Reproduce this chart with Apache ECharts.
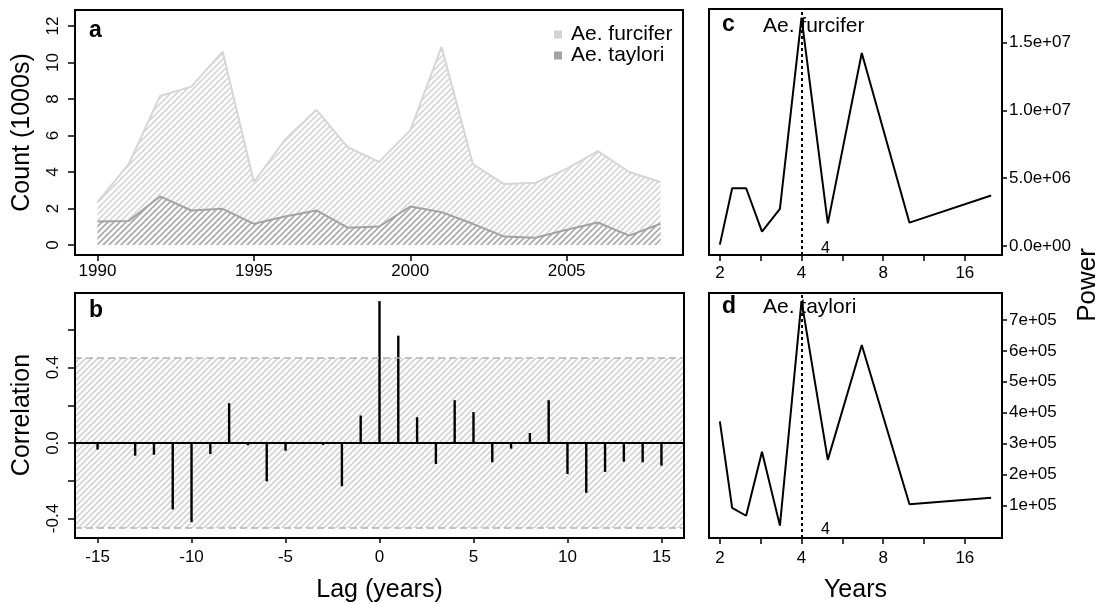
<!DOCTYPE html>
<html>
<head>
<meta charset="utf-8">
<script src="https://cdn.jsdelivr.net/npm/echarts@6/dist/echarts.min.js"></script>
<style>
  html, body { margin: 0; padding: 0; background: #fff; }
  #chart { width: 1101px; height: 604px; }
</style>
</head>
<body>
<div id="chart"></div>
<script>
// a: yearly counts (1000s)
const years = [1990, 1991, 1992, 1993, 1994, 1995, 1996, 1997, 1998, 1999, 2000, 2001, 2002, 2003, 2004, 2005, 2006, 2007, 2008]
const furcifer = [2.35, 4.44, 8.17, 8.68, 10.6, 3.45, 5.78, 7.41, 5.36, 4.55, 6.28, 10.86, 4.44, 3.34, 3.41, 4.17, 5.14, 4.0, 3.45]
const taylori = [1.28, 1.32, 2.66, 1.89, 1.98, 1.16, 1.56, 1.89, 0.95, 1.01, 2.11, 1.8, 1.16, 0.46, 0.4, 0.83, 1.23, 0.51, 1.16]

// b: cross correlation by lag
const lags = [-15, -14, -13, -12, -11, -10, -9, -8, -7, -6, -5, -4, -3, -2, -1, 0, 1, 2, 3, 4, 5, 6, 7, 8, 9, 10, 11, 12, 13, 14, 15]
const correlation = [-0.035, -0.005, -0.067, -0.062, -0.352, -0.419, -0.058, 0.211, -0.012, -0.203, -0.041, -0.003, -0.01, -0.229, 0.146,
  0.752, 0.569, 0.137, -0.111, 0.227, 0.164, -0.102, -0.03, 0.053, 0.227, -0.164, -0.264, -0.153, -0.099, -0.102, -0.12]
const ciLimit = 0.45

// c, d: periodogram
const periods = [2, 2.22, 2.5, 2.86, 3.33, 4, 5, 6.67, 10, 20]
const powerFurcifer = [0.1e6, 4.26e6, 4.26e6, 1.06e6, 2.73e6, 16.85e6, 1.67e6, 14.24e6, 1.72e6, 3.72e6]
const powerTaylori = [3.72e5, 0.915e5, 0.66e5, 2.73e5, 0.34e5, 7.62e5, 2.47e5, 6.19e5, 1.03e5, 1.245e5]
const peakPeriod = 4

// ticks
const yearTicks = [1990, 1995, 2000, 2005]
const countTicks = [0, 2, 4, 6, 8, 10, 12]
const lagTicks = [-15, -10, -5, 0, 5, 10, 15]
const corrTicks = [-0.4, -0.2, 0, 0.2, 0.4, 0.6]
const corrLabels = [-0.4, 0, 0.4]
const periodLabels = [2, 4, 8, 16]
const powerTicksC = [0, 5e6, 1e7, 1.5e7]
const powerTicksD = [1e5, 2e5, 3e5, 4e5, 5e5, 6e5, 7e5]

const FONT = '"Liberation Sans", Arial, sans-serif'

// panel boxes (px)
const grids = [
  { left: 75, top: 10, width: 608, height: 245 },
  { left: 75, top: 293, width: 609, height: 245 },
  { left: 709, top: 9, width: 293, height: 246 },
  { left: 709, top: 293, width: 293, height: 245 }
]

// diagonal hatch fill, like R's density/angle polygons
function hatch (color, bg) {
  const s = 6
  const c = document.createElement('canvas')
  c.width = c.height = s
  const g = c.getContext('2d')
  if (bg) { g.fillStyle = bg; g.fillRect(0, 0, s, s) }
  g.strokeStyle = color
  g.lineWidth = 1.6
  g.beginPath()
  g.moveTo(0, s); g.lineTo(s, 0)
  g.moveTo(-s / 2, s / 2); g.lineTo(s / 2, -s / 2)
  g.moveTo(s / 2, s * 1.5); g.lineTo(s * 1.5, s / 2)
  g.stroke()
  return { image: c, repeat: 'repeat' }
}

// R style scientific labels: 1.5e+07
function sci (v, digits) {
  if (v === 0) return (0).toFixed(digits) + 'e+00'
  const e = Math.floor(Math.log10(Math.abs(v)) + 1e-9)
  const m = v / Math.pow(10, e)
  return m.toFixed(digits) + 'e' + (e < 0 ? '-' : '+') + String(Math.abs(e)).padStart(2, '0')
}

const pair = (xs, ys) => xs.map((x, i) => [x, ys[i]])

const noLine = { show: false, onZero: false }
const tickStyle = { color: '#000', width: 1.5 }
const labelStyle = { color: '#000', fontSize: 17, fontFamily: FONT }
const nameStyle = { color: '#000', fontSize: 25, fontFamily: FONT }

function periodAxis (gridIndex, name, margin) {
  return {
    type: 'log',
    logBase: Math.SQRT2, // ticks at every half octave, labels on octaves
    gridIndex,
    min: 1.824,
    max: 21.93,
    name,
    nameLocation: 'middle',
    nameGap: 40,
    nameTextStyle: nameStyle,
    axisLine: noLine,
    splitLine: { show: false },
    axisTick: { length: 6, lineStyle: tickStyle },
    axisLabel: Object.assign({
      margin,
      showMinLabel: false,
      showMaxLabel: false,
      formatter: v => {
        const r = Math.round(v * 100) / 100
        return periodLabels.includes(r) ? String(r) : ''
      }
    }, labelStyle)
  }
}

function powerAxis (gridIndex, min, max, ticks, digits) {
  return {
    type: 'value',
    gridIndex,
    position: 'right',
    min,
    max,
    axisLine: noLine,
    splitLine: { show: false },
    axisTick: { length: 5, lineStyle: tickStyle, customValues: ticks },
    axisLabel: Object.assign({ margin: 7, customValues: ticks, formatter: v => sci(v, digits) }, labelStyle)
  }
}

const peakMark = (values) => ({
  silent: true,
  symbol: 'circle',
  symbolSize: 0,
  label: { show: true, formatter: String(peakPeriod), color: '#000', fontSize: 16, fontFamily: FONT, offset: [24, 4] },
  data: [{ coord: [peakPeriod, Math.min(...values)] }]
})

const peakLine = {
  silent: true,
  symbol: 'none',
  label: { show: false },
  lineStyle: { color: '#000', type: [3, 3], width: 2 },
  data: [{ xAxis: peakPeriod }]
}

const chart = echarts.init(document.getElementById('chart'), null, { renderer: 'canvas' })
chart.setOption({
  animation: false,
  backgroundColor: '#fff',
  textStyle: { fontFamily: FONT },
  grid: grids.map(g => Object.assign({ show: false }, g)),
  legend: {
    data: ['Ae. furcifer', 'Ae. taylori'],
    orient: 'vertical',
    left: 549,
    top: 19,
    icon: 'rect',
    itemWidth: 8,
    itemHeight: 8,
    itemGap: 0,
    textStyle: { color: '#000', fontSize: 21, fontFamily: FONT, padding: [0, 0, 0, 4] }
  },
  xAxis: [
    {
      type: 'value', gridIndex: 0, min: 1989.28, max: 2008.72,
      axisLine: noLine, splitLine: { show: false },
      axisTick: { length: 6, lineStyle: tickStyle, customValues: yearTicks },
      axisLabel: Object.assign({ margin: 8, customValues: yearTicks, formatter: v => String(v) }, labelStyle)
    },
    {
      type: 'value', gridIndex: 1, min: -16.2, max: 16.2,
      name: 'Lag (years)', nameLocation: 'middle', nameGap: 41, nameTextStyle: nameStyle,
      axisLine: noLine, splitLine: { show: false },
      axisTick: { length: 6, lineStyle: tickStyle, customValues: lagTicks },
      axisLabel: Object.assign({ margin: 12, customValues: lagTicks }, labelStyle)
    },
    periodAxis(2, '', 10),
    periodAxis(3, 'Years', 12)
  ],
  yAxis: [
    {
      type: 'value', gridIndex: 0, min: -0.55, max: 12.88,
      name: 'Count (1000s)', nameLocation: 'middle', nameGap: 40, nameTextStyle: nameStyle,
      axisLine: noLine, splitLine: { show: false },
      axisTick: { length: 7, lineStyle: tickStyle, customValues: countTicks },
      axisLabel: Object.assign({ margin: 13, rotate: 90, customValues: countTicks }, labelStyle)
    },
    {
      type: 'value', gridIndex: 1, min: -0.498, max: 0.795,
      name: 'Correlation', nameLocation: 'middle', nameGap: 40, nameTextStyle: nameStyle,
      axisLine: noLine, splitLine: { show: false },
      axisTick: { length: 7, lineStyle: tickStyle, customValues: corrTicks },
      axisLabel: Object.assign({ margin: 13, rotate: 90, customValues: corrLabels, formatter: v => v.toFixed(1) }, labelStyle)
    },
    powerAxis(2, -6.66e5, 1.749e7, powerTicksC, 1),
    powerAxis(3, -6.1e3, 7.877e5, powerTicksD, 0)
  ],
  series: [
    {
      name: 'Ae. furcifer',
      type: 'line',
      xAxisIndex: 0,
      yAxisIndex: 0,
      data: pair(years, furcifer),
      showSymbol: false,
      color: '#d3d3d3',
      lineStyle: { color: '#d6d6d6', width: 2 },
      areaStyle: { color: hatch('#d6d6d6'), opacity: 1 },
      z: 2
    },
    {
      name: 'Ae. taylori',
      type: 'line',
      xAxisIndex: 0,
      yAxisIndex: 0,
      data: pair(years, taylori),
      showSymbol: false,
      color: '#a3a3a3',
      lineStyle: { color: '#a3a3a3', width: 2 },
      areaStyle: { color: hatch('#a8a8a8', '#fff'), opacity: 1 },
      z: 3
    },
    {
      type: 'bar',
      xAxisIndex: 1,
      yAxisIndex: 1,
      data: pair(lags, correlation),
      barWidth: 2.4,
      itemStyle: { color: '#000' },
      z: 4,
      markArea: {
        silent: true,
        itemStyle: { color: hatch('#d3d3d3') },
        data: [[{ yAxis: -ciLimit }, { yAxis: ciLimit }]]
      },
      markLine: {
        silent: true,
        symbol: 'none',
        label: { show: false },
        data: [
          { yAxis: ciLimit, lineStyle: { color: '#b3b3b3', type: [7, 4], width: 1.5 } },
          { yAxis: -ciLimit, lineStyle: { color: '#b3b3b3', type: [7, 4], width: 1.5 } },
          { yAxis: 0, lineStyle: { color: '#000', type: 'solid', width: 1.8 } }
        ]
      }
    },
    {
      type: 'line',
      xAxisIndex: 2,
      yAxisIndex: 2,
      data: pair(periods, powerFurcifer),
      showSymbol: false,
      lineStyle: { color: '#000', width: 2 },
      markLine: peakLine,
      markPoint: peakMark(powerFurcifer)
    },
    {
      type: 'line',
      xAxisIndex: 3,
      yAxisIndex: 3,
      data: pair(periods, powerTaylori),
      showSymbol: false,
      lineStyle: { color: '#000', width: 2 },
      markLine: peakLine,
      markPoint: peakMark(powerTaylori)
    }
  ],
  graphic: [
    // panel frames drawn on top of the hatching
    ...grids.map(g => ({
      type: 'rect', z: 100, silent: true,
      shape: { x: g.left, y: g.top, width: g.width, height: g.height },
      style: { fill: null, stroke: '#000', lineWidth: 2 }
    })),
    { type: 'text', x: 89, y: 31, style: { text: 'a', font: 'bold 23px ' + FONT, fill: '#000', verticalAlign: 'middle' } },
    { type: 'text', x: 89, y: 311, style: { text: 'b', font: 'bold 23px ' + FONT, fill: '#000', verticalAlign: 'middle' } },
    { type: 'text', x: 722, y: 25, style: { text: 'c', font: 'bold 23px ' + FONT, fill: '#000', verticalAlign: 'middle' } },
    { type: 'text', x: 722, y: 307, style: { text: 'd', font: 'bold 23px ' + FONT, fill: '#000', verticalAlign: 'middle' } },
    { type: 'text', x: 763, y: 26, style: { text: 'Ae. furcifer', font: '21px ' + FONT, fill: '#000', verticalAlign: 'middle' } },
    { type: 'text', x: 763, y: 307, style: { text: 'Ae. taylori', font: '21px ' + FONT, fill: '#000', verticalAlign: 'middle' } },
    { type: 'text', x: 1088, y: 285, rotation: Math.PI / 2, style: { text: 'Power', font: '26px ' + FONT, fill: '#000', align: 'center', verticalAlign: 'middle' } }
  ]
})
</script>
</body>
</html>
